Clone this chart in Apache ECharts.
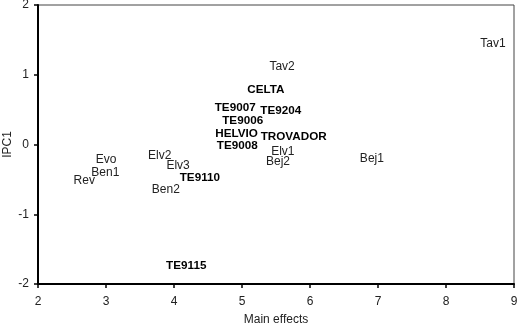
<!DOCTYPE html>
<html>
<head>
<meta charset="utf-8">
<script src="https://cdn.jsdelivr.net/npm/echarts@6/dist/echarts.min.js"></script>
<style>
  html, body { margin: 0; padding: 0; background: #fff; }
  #chart { width: 519px; height: 329px; }
</style>
</head>
<body>
<div id="chart"></div>
<script>
// genotypes (bold labels)
const genoNames = ['CELTA', 'TE9007', 'TE9204', 'TE9006', 'HELVIO', 'TROVADOR', 'TE9008', 'TE9110', 'TE9115'];
const genoMain  = [5.35, 4.90, 5.57, 5.01, 4.92, 5.76, 4.93, 4.38, 4.18];
const genoPc1   = [0.78, 0.52, 0.48, 0.34, 0.15, 0.11, -0.02, -0.47, -1.74];

// environments (plain labels)
const envNames = ['Tav1', 'Tav2', 'Elv1', 'Bej2', 'Bej1', 'Evo', 'Ben1', 'Rev', 'Elv2', 'Elv3', 'Ben2'];
const envMain  = [8.69, 5.59, 5.60, 5.53, 6.91, 3.00, 2.99, 2.68, 3.79, 4.06, 3.88];
const envPc1   = [1.45, 1.12, -0.11, -0.24, -0.21, -0.22, -0.41, -0.52, -0.16, -0.31, -0.65];

const xTicks = [2, 3, 4, 5, 6, 7, 8, 9];
const yTicks = [-2, -1, 0, 1, 2];

const font = '"Liberation Sans", Arial, sans-serif';

function toPoints(names, xs, ys) {
  return names.map((n, i) => ({ name: n, value: [xs[i], ys[i]] }));
}

const chart = echarts.init(document.getElementById('chart'));
chart.setOption({
  animation: false,
  grid: {
    left: 38, right: 5, top: 5, bottom: 45,
    containLabel: false, outerBoundsMode: 'none',
    show: true, borderColor: '#444', borderWidth: 1
  },
  xAxis: {
    type: 'value',
    min: xTicks[0], max: xTicks[xTicks.length - 1], interval: 1,
    name: 'Main effects', nameLocation: 'middle', nameGap: 30, nameMoveOverlap: false,
    nameTextStyle: { color: '#222', fontSize: 12, fontFamily: font },
    axisLine: { show: true, onZero: false, lineStyle: { color: '#000', width: 2 } },
    axisTick: { show: true, length: 4, lineStyle: { color: '#000', width: 1.5 } },
    axisLabel: { color: '#222', fontSize: 12, fontFamily: font, margin: 12 },
    splitLine: { show: false }
  },
  yAxis: {
    type: 'value',
    min: yTicks[0], max: yTicks[yTicks.length - 1], interval: 1,
    name: 'IPC1', nameLocation: 'middle', nameGap: 24, nameMoveOverlap: false,
    nameTextStyle: { color: '#222', fontSize: 12, fontFamily: font },
    axisLine: { show: true, onZero: false, lineStyle: { color: '#000', width: 2 } },
    axisTick: { show: true, length: 4, lineStyle: { color: '#000', width: 1.5 } },
    axisLabel: { color: '#222', fontSize: 12, fontFamily: font, margin: 9 },
    splitLine: { show: false }
  },
  series: [
    {
      type: 'scatter',
      symbolSize: 0,
      itemStyle: { opacity: 1 },
      data: toPoints(genoNames, genoMain, genoPc1),
      label: {
        show: true, position: 'inside', formatter: '{b}',
        color: '#000', fontSize: 11.7, fontWeight: 'bold', fontFamily: font
      }
    },
    {
      type: 'scatter',
      symbolSize: 0,
      itemStyle: { opacity: 1 },
      data: toPoints(envNames, envMain, envPc1),
      label: {
        show: true, position: 'inside', formatter: '{b}',
        color: '#222', fontSize: 12, fontFamily: font
      }
    }
  ]
});
</script>
</body>
</html>
